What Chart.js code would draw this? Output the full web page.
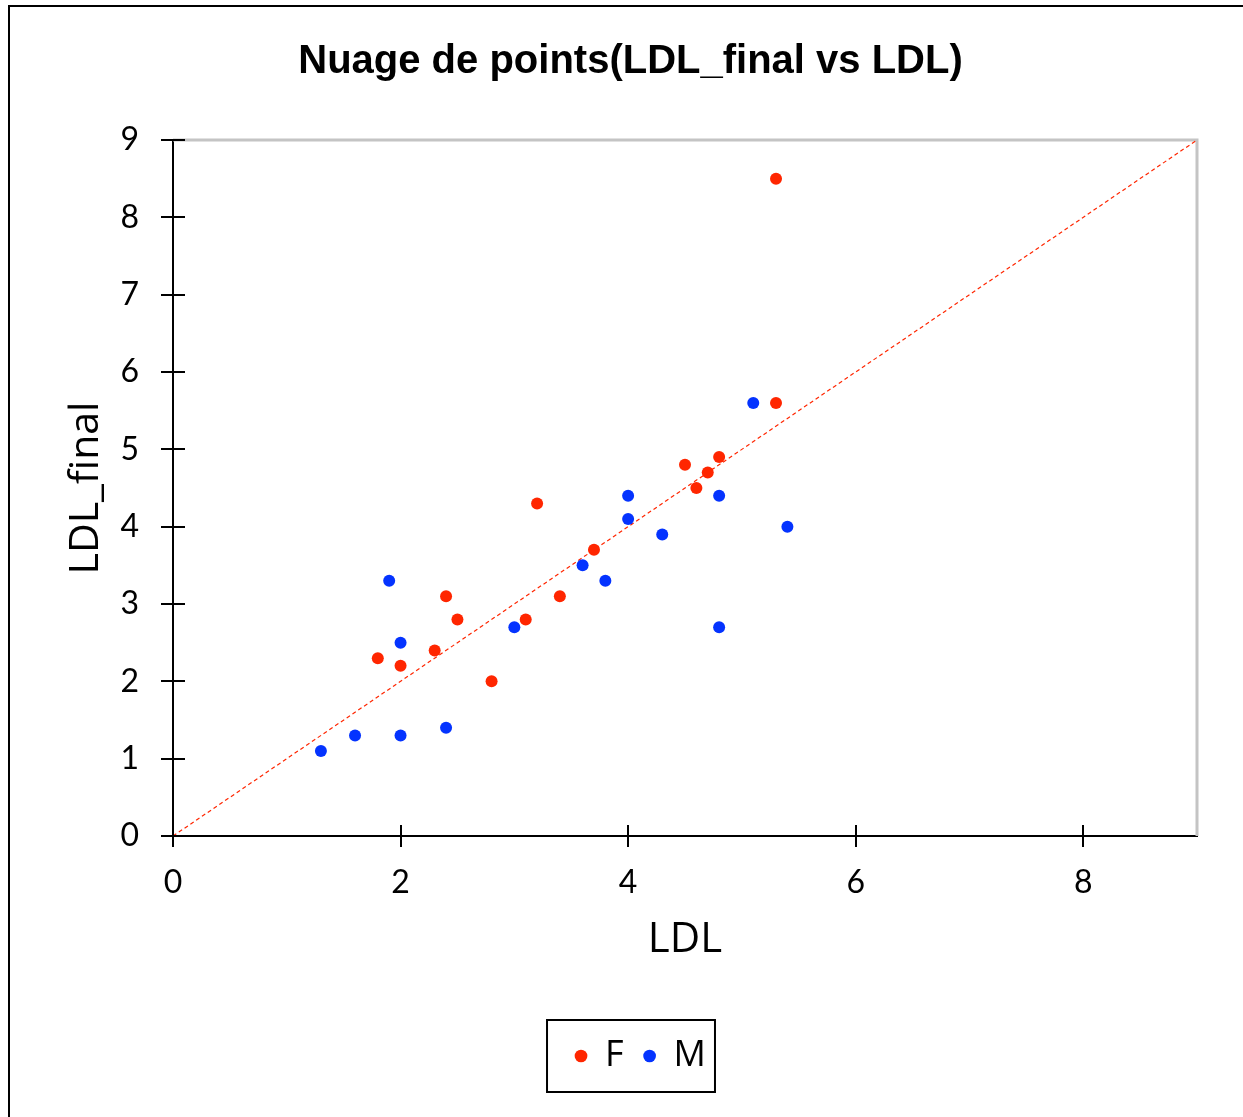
<!DOCTYPE html>
<html>
<head>
<meta charset="utf-8">
<script src="https://cdn.jsdelivr.net/npm/chart.js@4.4.1/dist/chart.umd.min.js"></script>
<style>
  html, body { margin: 0; padding: 0; background: #fff; }
  #wrap { position: relative; width: 1243px; height: 1117px; }
  #frame { position: absolute; left: 8px; top: 5px; width: 1240px; height: 1130px;
           border: 2px solid #000; box-sizing: border-box; pointer-events: none; }
</style>
</head>
<body>
<div id="wrap">
  <canvas id="scatterChart" width="1243" height="1117"></canvas>
  <div id="frame"></div>
</div>
<script>
// series F (femmes)
const fLDL      = [5.3, 5.3, 4.8, 4.5, 4.7, 4.6, 3.2, 3.7, 3.4, 3.1, 2.4, 2.5, 2.3, 1.8, 2.0, 2.8];
const fLDLfinal = [8.5, 5.6, 4.9, 4.8, 4.7, 4.5, 4.3, 3.7, 3.1, 2.8, 3.1, 2.8, 2.4, 2.3, 2.2, 2.0];
// series M (hommes)
const mLDL      = [5.1, 4.0, 4.0, 4.8, 4.3, 5.4, 3.6, 3.8, 1.9, 3.0, 4.8, 2.0, 2.4, 2.0, 1.6, 1.3];
const mLDLfinal = [5.6, 4.4, 4.1, 4.4, 3.9, 4.0, 3.5, 3.3, 3.3, 2.7, 2.7, 2.5, 1.4, 1.3, 1.3, 1.1];
// identity line y = x
const refX = [0, 9];
const refY = [0, 9];

const xTicks = [0, 2, 4, 6, 8];
const yTicks = [0, 1, 2, 3, 4, 5, 6, 7, 8, 9];

const RED = '#ff2600';
const BLUE = '#0433ff';
const TICK_FONT = { family: 'Lato', size: 32 };

const toPoints = (xs, ys) => xs.map((x, i) => ({ x: x, y: ys[i] }));

// crossing tick marks, grey top/right frame, legend box
const excelLook = {
  id: 'excelLook',
  afterLayout(chart) {
    // nudge legend so it sits centred like the original
    chart.legend.left += 10;
    chart.legend.right += 10;
  },
  beforeDatasetsDraw(chart) {
    const { ctx, chartArea: a } = chart;
    ctx.save();
    ctx.strokeStyle = '#c4c4c4';
    ctx.lineWidth = 3;
    ctx.beginPath();
    ctx.moveTo(a.left, a.top);
    ctx.lineTo(a.right, a.top);
    ctx.lineTo(a.right, a.bottom);
    ctx.stroke();
    ctx.restore();
  },
  afterDraw(chart) {
    const { ctx, chartArea: a, scales } = chart;
    ctx.save();
    ctx.strokeStyle = '#000';
    ctx.lineWidth = 2;
    ctx.beginPath();
    xTicks.forEach(v => {
      const px = Math.round(scales.x.getPixelForValue(v));
      ctx.moveTo(px, a.bottom - 11);
      ctx.lineTo(px, a.bottom + 11);
    });
    yTicks.forEach(v => {
      const py = Math.round(scales.y.getPixelForValue(v));
      ctx.moveTo(a.left - 12, py);
      ctx.lineTo(a.left + 12, py);
    });
    ctx.stroke();

    const boxes = chart.legend.legendHitBoxes;
    if (boxes && boxes.length) {
      const first = boxes[0], last = boxes[boxes.length - 1];
      const cy = first.top + first.height / 2;
      ctx.lineWidth = 2;
      ctx.strokeRect(first.left - 28, cy - 36, (last.left + last.width + 9) - (first.left - 28), 72);
    }
    ctx.restore();
  }
};

new Chart(document.getElementById('scatterChart'), {
  type: 'scatter',
  data: {
    datasets: [
      {
        label: 'F',
        data: toPoints(fLDL, fLDLfinal),
        backgroundColor: RED,
        borderColor: RED,
        pointRadius: 6,
        pointBorderWidth: 0
      },
      {
        label: 'M',
        data: toPoints(mLDL, mLDLfinal),
        backgroundColor: BLUE,
        borderColor: BLUE,
        pointRadius: 6,
        pointBorderWidth: 0
      },
      {
        type: 'line',
        label: 'y = x',
        data: toPoints(refX, refY),
        borderColor: RED,
        borderWidth: 1.2,
        borderDash: [4, 3],
        pointRadius: 0,
        fill: false
      }
    ]
  },
  options: {
    responsive: false,
    animation: false,
    layout: { padding: { top: 28, left: 64, right: 46, bottom: 33 } },
    plugins: {
      title: {
        display: true,
        text: 'Nuage de points(LDL_final vs LDL)',
        color: '#000',
        font: { family: "'Liberation Sans', Arial", size: 40, weight: 'bold' },
        padding: { top: 10, bottom: 54 }
      },
      legend: {
        position: 'bottom',
        labels: {
          filter: item => item.text !== 'y = x',
          usePointStyle: true,
          pointStyle: 'circle',
          boxWidth: 12,
          boxHeight: 9,
          padding: 20,
          color: '#000',
          font: { family: "'Open Sans'", size: 36 }
        }
      },
      tooltip: { enabled: false }
    },
    scales: {
      x: {
        type: 'linear',
        min: 0,
        max: 9,
        afterBuildTicks: s => { s.ticks = xTicks.map(v => ({ value: v })); },
        afterFit: s => { s.height = 182; },
        grid: { display: false, drawTicks: false },
        border: { display: true, color: '#000', width: 2 },
        ticks: { color: '#000', font: TICK_FONT, padding: 27, maxRotation: 0 },
        title: {
          display: true,
          text: 'LDL',
          color: '#000',
          font: { family: "'Open Sans'", size: 42 },
          padding: { top: 0, bottom: 53 }
        }
      },
      y: {
        type: 'linear',
        min: 0,
        max: 9,
        afterBuildTicks: s => { s.ticks = yTicks.map(v => ({ value: v })); },
        afterFit: s => { s.width = 109; },
        grid: { display: false, drawTicks: false },
        border: { display: true, color: '#000', width: 2 },
        ticks: { color: '#000', font: TICK_FONT, padding: 34 },
        title: {
          display: true,
          text: 'LDL_final',
          color: '#000',
          font: { family: "'Open Sans'", size: 41 },
          padding: { top: -2, bottom: 0 }
        }
      }
    }
  },
  plugins: [excelLook]
});
</script>
</body>
</html>
